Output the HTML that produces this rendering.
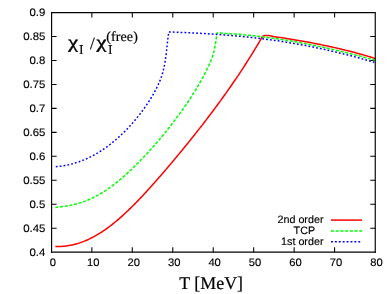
<!DOCTYPE html>
<html><head><meta charset="utf-8"><title>chart</title>
<style>
html,body{margin:0;padding:0;background:#fff;}
body{width:392px;height:294px;overflow:hidden;}
svg{display:block;will-change:transform;}
text{text-rendering:geometricPrecision;}
.s{font-family:"Liberation Sans",sans-serif;font-size:10.9px;fill:#000;stroke:#000;stroke-width:0.15;}
.r{font-family:"Liberation Serif",serif;fill:#000;stroke:#000;stroke-width:0.2;}
</style></head><body>
<svg width="392" height="294" viewBox="0 0 392 294">
<rect width="392" height="294" fill="#fff"/>
<path d="M91.86 252.15v-5.0M91.86 12.55v5.0M132.31 252.15v-5.0M132.31 12.55v5.0M172.77 252.15v-5.0M172.77 12.55v5.0M213.22 252.15v-5.0M213.22 12.55v5.0M253.68 252.15v-5.0M253.68 12.55v5.0M294.14 252.15v-5.0M294.14 12.55v5.0M334.59 252.15v-5.0M334.59 12.55v5.0M51.60 228.19h5.0M375.25 228.19h-5.0M51.60 204.23h5.0M375.25 204.23h-5.0M51.60 180.27h5.0M375.25 180.27h-5.0M51.60 156.31h5.0M375.25 156.31h-5.0M51.60 132.35h5.0M375.25 132.35h-5.0M51.60 108.39h5.0M375.25 108.39h-5.0M51.60 84.43h5.0M375.25 84.43h-5.0M51.60 60.47h5.0M375.25 60.47h-5.0M51.60 36.51h5.0M375.25 36.51h-5.0" fill="none" stroke="#000" stroke-width="1.05"/>
<g fill="none" stroke-linejoin="round">
<path d="M55.40 246.57L56.94 246.57L58.47 246.55L60.00 246.50L61.51 246.41L63.02 246.30L64.52 246.16L66.01 245.98L67.49 245.78L68.96 245.55L70.42 245.29L71.88 244.99L73.32 244.67L74.76 244.32L76.19 243.94L77.61 243.54L79.02 243.10L80.43 242.64L81.82 242.15L83.20 241.64L84.58 241.10L85.95 240.53L87.31 239.94L88.65 239.33L89.99 238.69L91.33 238.03L92.65 237.35L93.96 236.65L95.26 235.93L96.56 235.19L97.85 234.43L99.12 233.66L100.39 232.86L101.65 232.06L102.90 231.23L104.14 230.39L105.37 229.53L106.59 228.67L107.81 227.78L109.01 226.89L110.21 225.98L111.40 225.06L112.59 224.13L113.76 223.19L114.93 222.24L116.09 221.28L117.24 220.31L118.39 219.33L119.53 218.35L120.66 217.35L121.79 216.35L122.91 215.34L124.02 214.32L125.13 213.30L126.23 212.27L127.32 211.24L128.41 210.20L129.50 209.15L130.58 208.10L131.65 207.05L132.72 205.99L133.78 204.92L134.84 203.85L135.89 202.78L136.94 201.70L137.99 200.63L139.03 199.54L140.06 198.46L141.10 197.37L142.12 196.28L143.15 195.18L144.17 194.08L145.19 192.98L146.20 191.88L147.21 190.78L148.22 189.67L149.23 188.56L150.23 187.45L151.23 186.34L152.23 185.22L153.23 184.10L154.22 182.98L155.22 181.86L156.21 180.73L157.20 179.61L158.18 178.48L159.17 177.35L160.16 176.21L161.14 175.08L162.12 173.94L163.11 172.80L164.09 171.66L165.07 170.51L166.04 169.37L167.02 168.22L168.00 167.08L168.97 165.93L169.94 164.78L170.92 163.63L171.89 162.47L172.86 161.32L173.83 160.17L174.79 159.01L175.76 157.86L176.72 156.70L177.68 155.54L178.64 154.38L179.60 153.23L180.56 152.07L181.52 150.91L182.48 149.75L183.43 148.58L184.38 147.42L185.33 146.26L186.28 145.09L187.23 143.93L188.18 142.76L189.12 141.60L190.06 140.43L191.01 139.26L191.95 138.09L192.88 136.92L193.82 135.74L194.76 134.57L195.69 133.39L196.62 132.21L197.55 131.03L198.48 129.84L199.41 128.66L200.33 127.48L201.25 126.29L202.18 125.10L203.10 123.92L204.01 122.73L204.93 121.54L205.84 120.35L206.76 119.16L207.67 117.96L208.57 116.77L209.48 115.57L210.39 114.38L211.29 113.18L212.19 111.98L213.09 110.78L213.99 109.57L214.88 108.37L215.77 107.16L216.67 105.96L217.56 104.75L218.44 103.54L219.33 102.33L220.21 101.12L221.09 99.90L221.97 98.69L222.85 97.48L223.72 96.26L224.59 95.04L225.46 93.82L226.33 92.60L227.20 91.38L228.06 90.15L228.92 88.93L229.78 87.70L230.64 86.47L231.50 85.24L232.35 84.00L233.20 82.77L234.05 81.53L234.89 80.29L235.74 79.05L236.58 77.81L237.42 76.56L238.25 75.32L239.09 74.07L239.92 72.82L240.75 71.57L241.58 70.31L242.40 69.05L243.22 67.80L244.04 66.54L244.86 65.27L245.68 64.01L246.49 62.74L247.30 61.47L248.11 60.20L248.91 58.93L249.71 57.65L250.51 56.38L251.31 55.10L252.10 53.82L252.89 52.53L253.68 51.24L254.47 49.96L255.25 48.67L256.03 47.38L256.81 46.09L257.59 44.79L258.36 43.50L259.13 42.20L259.90 40.90L260.60 39.60L261.30 38.30L262.00 37.20L262.80 36.30L263.80 35.75L265.00 35.50L266.50 35.45L268.00 35.55L270.00 35.85L273.30 36.50L274.78 36.72L276.26 36.93L277.74 37.15L279.22 37.38L280.70 37.60L282.18 37.83L283.66 38.05L285.14 38.28L286.62 38.52L288.10 38.75L289.57 38.99L291.05 39.23L292.53 39.47L294.00 39.71L295.48 39.96L296.96 40.21L298.43 40.46L299.91 40.72L301.38 40.97L302.86 41.23L304.33 41.50L305.80 41.76L307.28 42.03L308.75 42.30L310.22 42.57L311.69 42.85L313.16 43.13L314.63 43.41L316.10 43.70L317.57 43.99L319.03 44.28L320.50 44.58L321.97 44.87L323.43 45.18L324.90 45.48L326.36 45.79L327.83 46.10L329.29 46.42L330.75 46.74L332.21 47.06L333.67 47.38L335.13 47.71L336.59 48.05L338.05 48.39L339.51 48.73L340.96 49.07L342.42 49.42L343.87 49.77L345.32 50.13L346.78 50.49L348.23 50.85L349.68 51.22L351.13 51.59L352.58 51.97L354.02 52.35L355.47 52.74L356.92 53.13L358.36 53.52L359.80 53.92L361.24 54.32L362.69 54.73L364.13 55.14L365.56 55.56L367.00 55.98L368.44 56.40L369.87 56.83L371.31 57.27L372.74 57.71L374.17 58.15L375.60 58.60" stroke="#ff0000" stroke-width="1.5"/>
<path d="M55.40 207.38L56.88 207.24L58.37 207.09L59.85 206.93L61.33 206.76L62.82 206.57L64.30 206.37L65.77 206.15L67.25 205.92L68.72 205.66L70.19 205.39L71.65 205.09L73.11 204.77L74.56 204.43L76.01 204.06L77.45 203.67L78.88 203.26L80.31 202.83L81.72 202.37L83.13 201.88L84.53 201.38L85.92 200.85L87.29 200.30L88.66 199.73L90.02 199.14L91.36 198.52L92.70 197.89L94.03 197.24L95.35 196.56L96.65 195.87L97.95 195.16L99.24 194.43L100.52 193.68L101.80 192.92L103.06 192.14L104.31 191.34L105.56 190.53L106.80 189.70L108.02 188.86L109.25 188.01L110.46 187.14L111.66 186.26L112.86 185.37L114.05 184.46L115.24 183.55L116.41 182.62L117.58 181.68L118.74 180.73L119.90 179.78L121.04 178.81L122.18 177.83L123.32 176.85L124.45 175.86L125.57 174.86L126.68 173.85L127.79 172.84L128.90 171.82L129.99 170.79L131.09 169.76L132.17 168.73L133.25 167.68L134.32 166.64L135.39 165.58L136.46 164.53L137.51 163.47L138.56 162.40L139.61 161.33L140.65 160.26L141.69 159.18L142.72 158.10L143.74 157.02L144.77 155.93L145.78 154.84L146.79 153.75L147.80 152.66L148.80 151.56L149.80 150.46L150.79 149.36L151.78 148.25L152.77 147.14L153.75 146.03L154.73 144.92L155.70 143.80L156.67 142.68L157.63 141.56L158.59 140.43L159.55 139.31L160.50 138.17L161.45 137.04L162.40 135.90L163.35 134.76L164.29 133.62L165.22 132.47L166.16 131.31L167.09 130.16L168.02 129.00L168.94 127.83L169.87 126.66L170.79 125.48L171.70 124.29L172.62 123.11L173.53 121.91L174.43 120.72L175.34 119.52L176.24 118.32L177.14 117.12L178.03 115.92L178.92 114.72L179.80 113.52L180.68 112.32L181.56 111.11L182.43 109.91L183.30 108.70L184.16 107.48L185.02 106.23L185.87 104.99L186.72 103.74L187.57 102.49L188.40 101.24L189.24 99.98L190.06 98.72L190.88 97.46L191.70 96.19L192.51 94.92L193.31 93.65L194.11 92.37L194.90 91.09L195.69 89.81L196.47 88.52L197.24 87.23L198.00 85.93L198.76 84.64L199.51 83.33L200.26 82.03L201.00 80.72L201.73 79.40L202.45 78.08L203.16 76.76L203.87 75.43L204.57 74.10L205.26 72.77L205.95 71.44L206.62 70.10L207.29 68.75L207.94 67.40L208.57 66.05L209.20 64.69L209.80 63.32L210.38 61.95L210.94 60.56L211.48 59.17L211.99 57.78L212.47 56.37L212.92 54.95L213.34 53.53L213.73 52.09L214.09 50.65L214.42 49.19L214.73 47.74L215.02 46.27L215.28 44.80L215.53 43.32L215.76 41.84L215.98 40.36L216.19 38.87L216.39 37.38L216.58 35.89L216.77 34.41L216.95 32.92L218.45 32.97L219.94 33.04L221.43 33.12L222.93 33.20L224.42 33.29L225.91 33.38L227.40 33.48L228.89 33.57L230.38 33.68L231.87 33.78L233.36 33.89L234.85 34.01L236.34 34.12L237.83 34.25L239.32 34.37L240.81 34.50L242.29 34.64L243.78 34.77L245.27 34.91L246.76 35.06L248.24 35.21L249.73 35.36L251.21 35.52L252.70 35.68L254.18 35.84L255.67 36.01L257.15 36.18L258.63 36.35L260.12 36.53L261.60 36.71L263.08 36.90L264.56 37.09L266.04 37.28L267.53 37.47L269.01 37.67L270.49 37.88L271.97 38.08L273.44 38.29L274.92 38.51L276.40 38.72L277.88 38.94L279.36 39.16L280.83 39.39L282.31 39.62L283.78 39.85L285.26 40.09L286.73 40.33L288.21 40.57L289.68 40.82L291.15 41.07L292.63 41.32L294.10 41.58L295.57 41.84L297.04 42.10L298.51 42.37L299.98 42.63L301.45 42.91L302.92 43.18L304.39 43.46L305.86 43.74L307.33 44.02L308.79 44.31L310.26 44.60L311.72 44.89L313.19 45.19L314.65 45.48L316.12 45.79L317.58 46.09L319.04 46.40L320.51 46.71L321.97 47.02L323.43 47.33L324.89 47.65L326.35 47.97L327.81 48.30L329.27 48.62L330.73 48.95L332.18 49.29L333.64 49.62L335.10 49.96L336.55 50.30L338.01 50.64L339.46 50.98L340.91 51.33L342.37 51.68L343.82 52.04L345.27 52.39L346.72 52.75L348.17 53.11L349.62 53.47L351.07 53.84L352.52 54.20L353.97 54.57L355.41 54.95L356.86 55.32L358.31 55.70L359.75 56.08L361.20 56.46L362.64 56.84L364.08 57.23L365.52 57.62L366.97 58.01L368.41 58.40L369.85 58.80L371.29 59.19L372.72 59.59L374.16 60.00L375.60 60.40" stroke="#00ff00" stroke-width="1.5" stroke-dasharray="3.1 1.6"/>
<path d="M55.80 166.71L57.33 166.57L58.85 166.41L60.36 166.22L61.86 166.01L63.36 165.77L64.84 165.51L66.32 165.23L67.79 164.93L69.25 164.60L70.69 164.25L72.14 163.87L73.57 163.48L74.99 163.06L76.40 162.62L77.81 162.16L79.21 161.68L80.59 161.17L81.97 160.65L83.34 160.10L84.70 159.54L86.05 158.95L87.39 158.35L88.73 157.72L90.05 157.08L91.37 156.42L92.67 155.74L93.97 155.04L95.26 154.33L96.54 153.59L97.81 152.84L99.07 152.08L100.33 151.29L101.57 150.50L102.80 149.68L104.03 148.85L105.25 148.01L106.45 147.15L107.65 146.27L108.84 145.39L110.02 144.49L111.19 143.57L112.35 142.64L113.51 141.70L114.65 140.75L115.79 139.78L116.91 138.80L118.03 137.81L119.14 136.81L120.23 135.80L121.32 134.77L122.40 133.74L123.48 132.69L124.54 131.64L125.59 130.58L126.63 129.50L127.67 128.42L128.69 127.32L129.71 126.22L130.72 125.11L131.72 123.99L132.70 122.87L133.68 121.73L134.65 120.59L135.62 119.44L136.57 118.29L137.51 117.13L138.44 115.96L139.37 114.78L140.28 113.60L141.19 112.42L142.09 111.23L142.97 110.04L143.85 108.84L144.72 107.63L145.58 106.41L146.42 105.18L147.26 103.94L148.09 102.70L148.90 101.45L149.70 100.20L150.49 98.94L151.27 97.67L152.04 96.39L152.79 95.11L153.53 93.82L154.25 92.52L154.96 91.21L155.66 89.89L156.34 88.57L157.01 87.23L157.66 85.88L158.30 84.52L158.91 83.14L159.51 81.75L160.08 80.36L160.63 78.95L161.14 77.54L161.63 76.12L162.09 74.69L162.52 73.25L162.92 71.81L163.30 70.36L163.65 68.90L163.98 67.44L164.29 65.97L164.57 64.50L164.84 63.03L165.09 61.55L165.33 60.06L165.55 58.58L165.76 57.09L165.96 55.60L166.15 54.11L166.33 52.62L166.50 51.13L166.67 49.64L166.84 48.15L167.00 46.67L167.16 45.18L167.32 43.69L167.48 42.21L167.65 40.72L167.82 39.24L168.00 37.77L168.18 36.29L168.38 34.82L168.58 33.36L168.80 31.90L170.30 31.96L171.79 32.02L173.29 32.08L174.79 32.14L176.28 32.20L177.78 32.26L179.27 32.32L180.77 32.39L182.27 32.45L183.76 32.52L185.26 32.59L186.76 32.66L188.25 32.73L189.75 32.80L191.25 32.87L192.74 32.95L194.24 33.02L195.74 33.10L197.23 33.18L198.73 33.26L200.23 33.35L201.72 33.43L203.22 33.52L204.72 33.60L206.21 33.69L207.71 33.79L209.20 33.88L210.70 33.98L212.19 34.07L213.69 34.17L215.18 34.27L216.68 34.38L218.17 34.48L219.67 34.59L221.16 34.70L222.66 34.81L224.15 34.93L225.65 35.04L227.14 35.16L228.63 35.28L230.13 35.41L231.62 35.53L233.11 35.66L234.60 35.79L236.10 35.93L237.59 36.06L239.08 36.20L240.57 36.34L242.06 36.49L243.55 36.63L245.04 36.78L246.53 36.94L248.02 37.09L249.51 37.25L251.00 37.41L252.49 37.58L253.97 37.74L255.46 37.91L256.95 38.09L258.44 38.26L259.92 38.44L261.41 38.63L262.89 38.81L264.38 39.00L265.86 39.20L267.35 39.39L268.83 39.59L270.32 39.79L271.80 40.00L273.28 40.21L274.76 40.42L276.24 40.63L277.72 40.85L279.21 41.07L280.69 41.30L282.16 41.53L283.64 41.76L285.12 41.99L286.60 42.23L288.08 42.47L289.55 42.71L291.03 42.96L292.51 43.21L293.98 43.47L295.46 43.72L296.93 43.98L298.41 44.24L299.88 44.51L301.35 44.78L302.82 45.05L304.29 45.33L305.77 45.61L307.24 45.89L308.71 46.18L310.17 46.46L311.64 46.76L313.11 47.05L314.58 47.35L316.05 47.65L317.51 47.95L318.98 48.26L320.44 48.57L321.91 48.88L323.37 49.20L324.83 49.52L326.30 49.85L327.76 50.17L329.22 50.50L330.68 50.83L332.14 51.17L333.60 51.51L335.06 51.85L336.51 52.20L337.97 52.54L339.43 52.90L340.88 53.25L342.34 53.61L343.79 53.97L345.25 54.33L346.70 54.70L348.15 55.07L349.60 55.44L351.05 55.82L352.50 56.20L353.95 56.58L355.40 56.97L356.85 57.36L358.30 57.75L359.74 58.15L361.19 58.54L362.63 58.95L364.08 59.35L365.52 59.76L366.96 60.17L368.40 60.58L369.84 61.00L371.28 61.42L372.72 61.84L374.16 62.27L375.60 62.70" stroke="#0000ff" stroke-width="1.5" stroke-dasharray="1.8 2.1"/>
</g>
<g fill="none" stroke="#000" stroke-width="1.15" stroke-linecap="square">
<path d="M51.60 252.15V12.55H375.25V252.15"/>
<path d="M51.60 252.15H375.25" stroke-width="1.35"/>
</g>
<g class="s"><text transform="translate(45.4 256.00) scale(1.05 1)" text-anchor="end">0.4</text><text transform="translate(45.4 232.04) scale(1.05 1)" text-anchor="end">0.45</text><text transform="translate(45.4 208.08) scale(1.05 1)" text-anchor="end">0.5</text><text transform="translate(45.4 184.12) scale(1.05 1)" text-anchor="end">0.55</text><text transform="translate(45.4 160.16) scale(1.05 1)" text-anchor="end">0.6</text><text transform="translate(45.4 136.20) scale(1.05 1)" text-anchor="end">0.65</text><text transform="translate(45.4 112.24) scale(1.05 1)" text-anchor="end">0.7</text><text transform="translate(45.4 88.28) scale(1.05 1)" text-anchor="end">0.75</text><text transform="translate(45.4 64.32) scale(1.05 1)" text-anchor="end">0.8</text><text transform="translate(45.4 40.36) scale(1.05 1)" text-anchor="end">0.85</text><text transform="translate(45.4 16.40) scale(1.05 1)" text-anchor="end">0.9</text><text transform="translate(52.80 266.25) scale(1.03 1)" text-anchor="middle">0</text><text transform="translate(93.26 266.25) scale(1.03 1)" text-anchor="middle">10</text><text transform="translate(133.71 266.25) scale(1.03 1)" text-anchor="middle">20</text><text transform="translate(174.17 266.25) scale(1.03 1)" text-anchor="middle">30</text><text transform="translate(214.62 266.25) scale(1.03 1)" text-anchor="middle">40</text><text transform="translate(255.08 266.25) scale(1.03 1)" text-anchor="middle">50</text><text transform="translate(295.54 266.25) scale(1.03 1)" text-anchor="middle">60</text><text transform="translate(335.99 266.25) scale(1.03 1)" text-anchor="middle">70</text><text transform="translate(376.45 266.25) scale(1.03 1)" text-anchor="middle">80</text>
<text x="323.5" y="223.4" text-anchor="end" font-size="10.75">2nd order</text>
<text x="315.1" y="234.4" text-anchor="end" font-size="10.75">TCP</text>
<text x="323.5" y="245.35" text-anchor="end" font-size="10.75">1st order</text>
</g>
<g fill="none">
<path d="M331 220.1H362" stroke="#ff0000" stroke-width="1.5"/>
<path d="M331 230.95H362" stroke="#00ff00" stroke-width="1.6" stroke-dasharray="3.1 1.6"/>
<path d="M331 241.8H362" stroke="#0000ff" stroke-width="1.6" stroke-dasharray="1.9 2"/>
</g>
<g class="r">
<text x="179.3" y="288.5" font-size="17.9">T [MeV]</text>
<text transform="translate(68.3 48.3) scale(1.22 1)" font-size="18" stroke-width="0.45">χ</text>
<text x="79.1" y="53.8" font-size="13.6" stroke-width="0.1">I</text>
<text x="90" y="49" font-size="17">/</text>
<text transform="translate(96.6 48.3) scale(1.24 1)" font-size="18" stroke-width="0.45">χ</text>
<text x="108.1" y="54.3" font-size="13.6" stroke-width="0.1">I</text>
<text x="106.2" y="40.7" font-size="13.9" letter-spacing="0.15">(free)</text>
</g>
</svg>
</body></html>
